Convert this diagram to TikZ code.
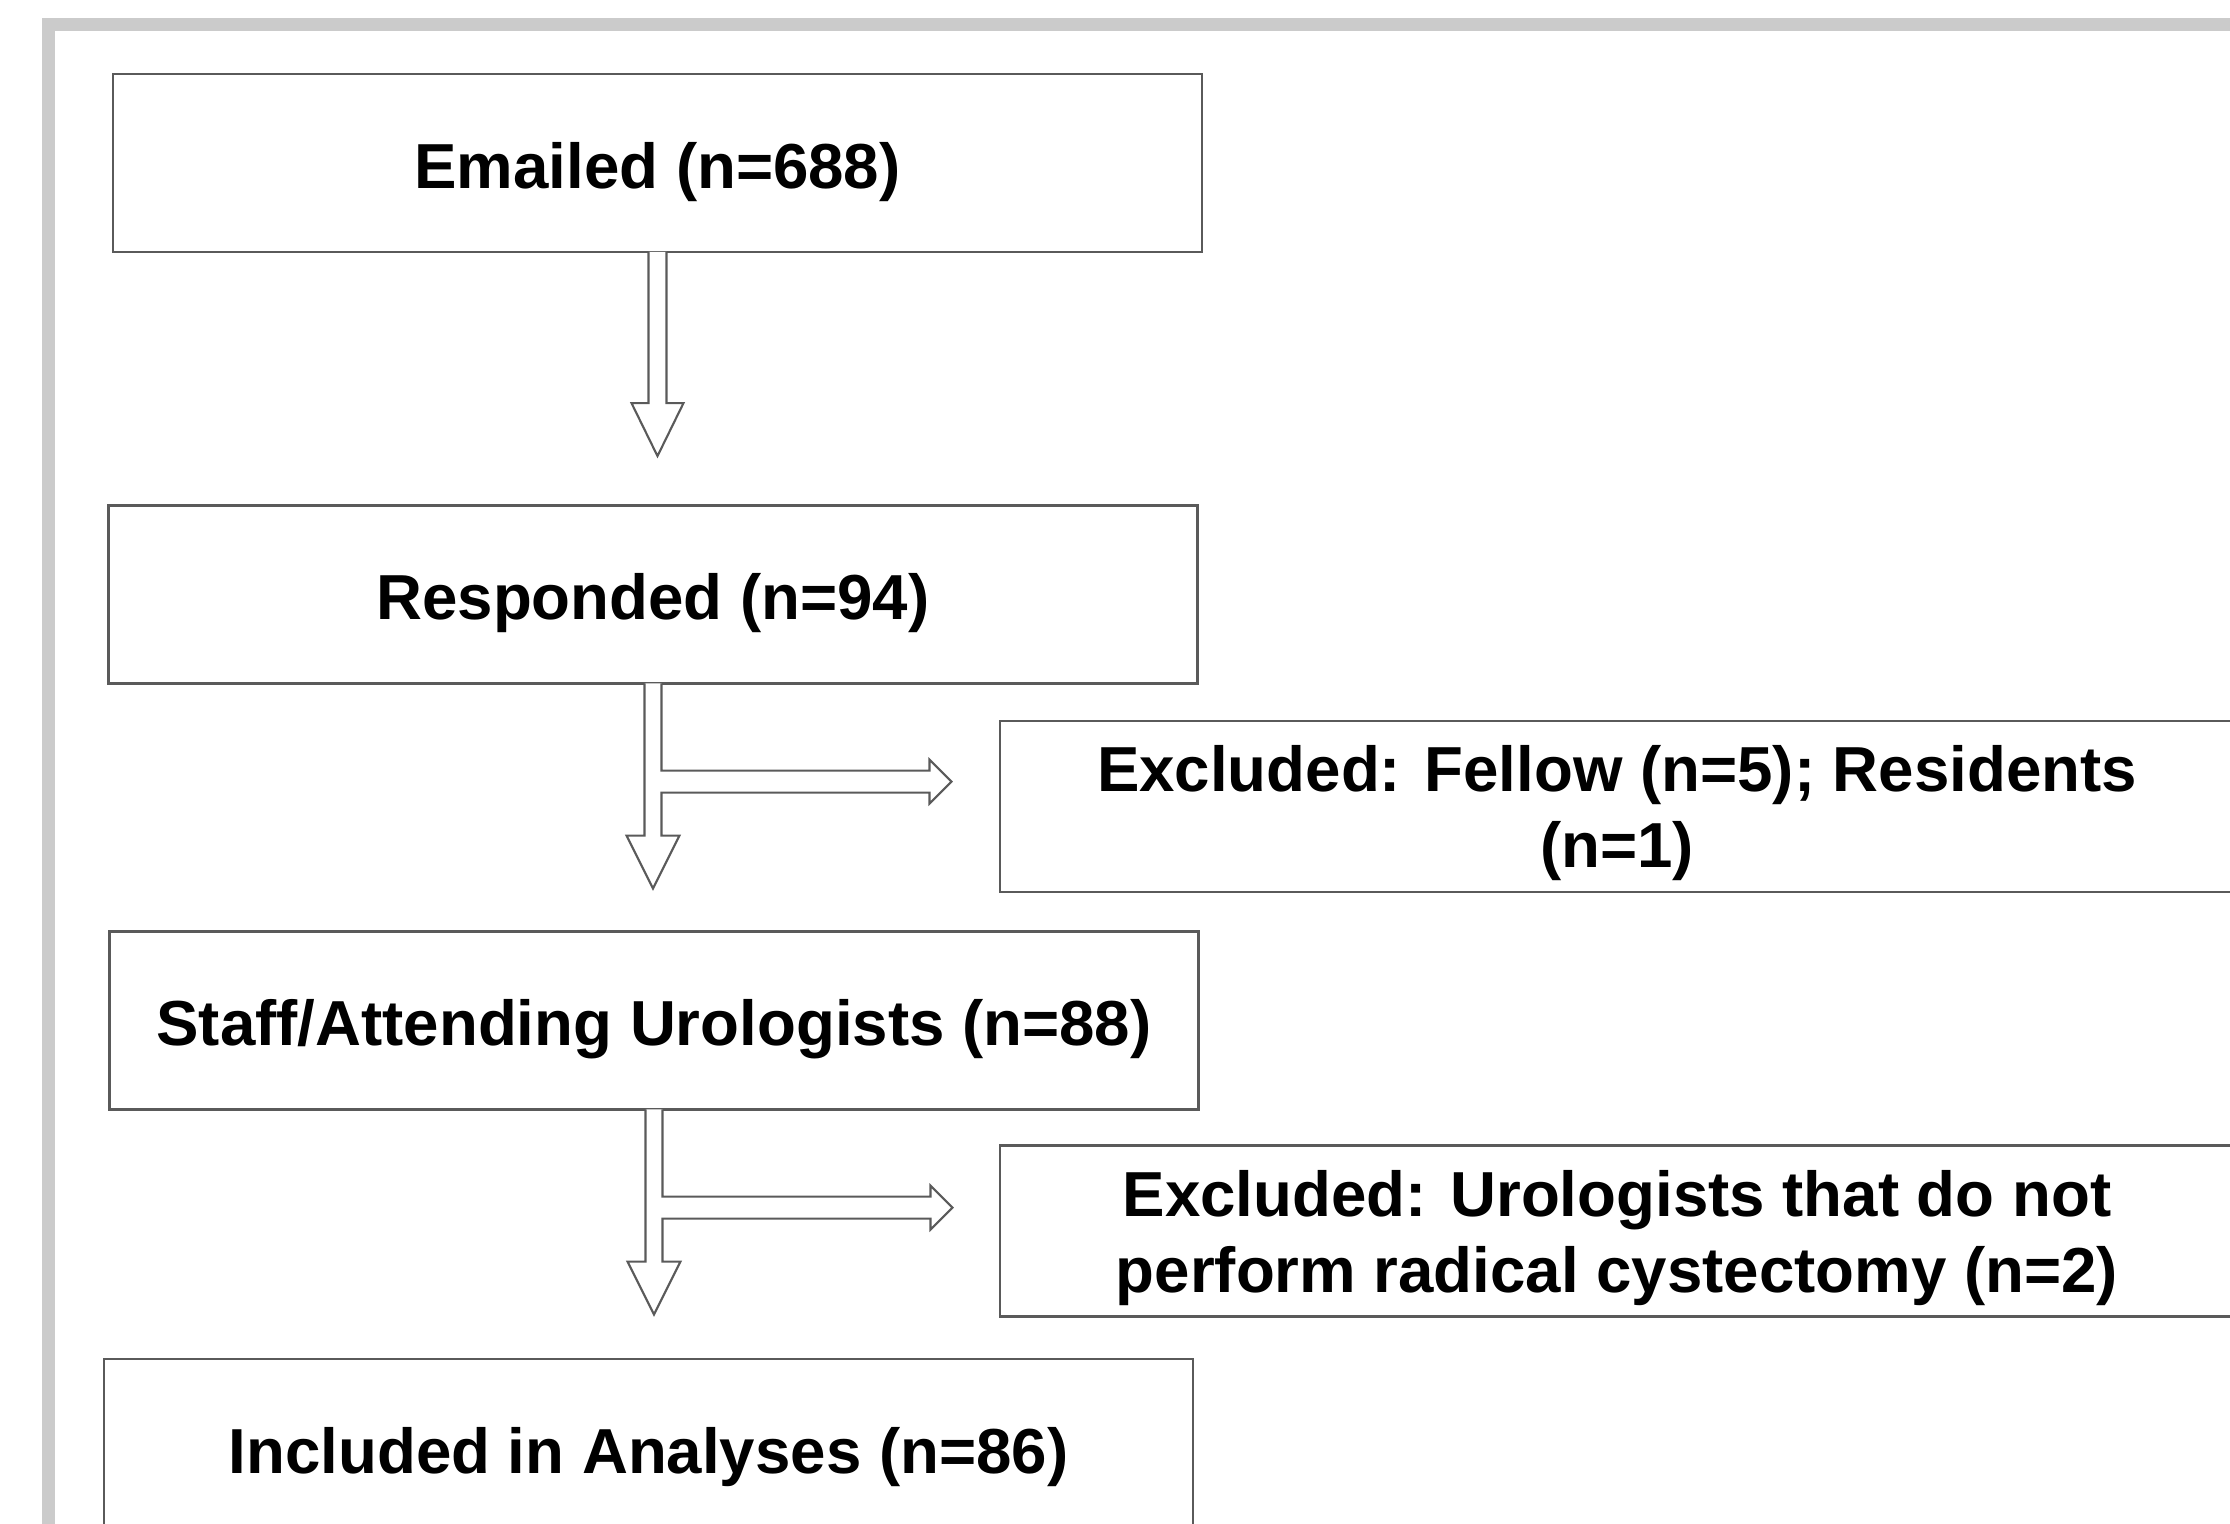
\documentclass[tikz,border=0pt]{standalone}
\usepackage{fontspec}
\setmainfont{Liberation Sans}
\usetikzlibrary{calc}
\definecolor{framegray}{HTML}{CBCBCB}
\definecolor{linegray}{HTML}{5A5A5A}

\begin{document}
\begin{tikzpicture}[
    box/.style={draw=linegray,line width=0.6pt,fill=white,minimum width=10.89cm,minimum height=1.78cm,
        inner sep=0pt,align=center,text height=18pt,font=\fontsize{18.1}{21.6}\selectfont\bfseries},
    exbox/.style={box,minimum width=12.34cm,minimum height=1.71cm,text height=,text depth=-1pt},
    blockarrow/.style={draw=linegray,line width=0.6pt,fill=white,line join=miter}]
    \useasboundingbox (0,0) rectangle (22.30,-15.23);
    \clip (0,0) rectangle (22.30,-15.23);
    %outer frame
    \draw [framegray,line width=0.13cm] (0.485,-0.24) rectangle (23,-16);
    %boxes
    \node [box] (emailed) at (6.575,-1.63) {Emailed (n=688)};
    \node [box] (resp) at (6.53,-5.945) {Responded (n=94)};
    \node [box] (staff) at (6.54,-10.205) {Staff/Attending Urologists (n=88)};
    \node [box] (incl) at (6.485,-14.48) {Included in Analyses (n=86)};
    \node [exbox] (exfell) at (16.17,-8.065) {Excluded: Fellow (n=5); Residents\\(n=1)};
    \node [exbox] (exuro) at (16.17,-12.31) {Excluded: Urologists that do not\\perform radical cystectomy (n=2)};
    %arrows
    \draw [blockarrow] ($(emailed.south)+(-0.09,0.012)$) -- ++(0,-1.512) -- ++(-0.17,0)
        -- ++(0.26,-0.53) -- ++(0.26,0.53) -- ++(-0.17,0) -- ++(0,1.512);
    \foreach \b in {resp,staff}
        \draw [blockarrow] ($(\b.south)+(-0.085,0.012)$) -- ++(0,-1.522) -- ++(-0.18,0)
            -- ++(0.265,-0.53) -- ++(0.265,0.53) -- ++(-0.18,0) -- ++(0,0.43)
            -- ++(2.68,0) -- ++(0,-0.11) -- ++(0.22,0.22) -- ++(-0.22,0.22) -- ++(0,-0.11)
            -- ++(-2.68,0) -- ++(0,0.872);
\end{tikzpicture}
\end{document}
